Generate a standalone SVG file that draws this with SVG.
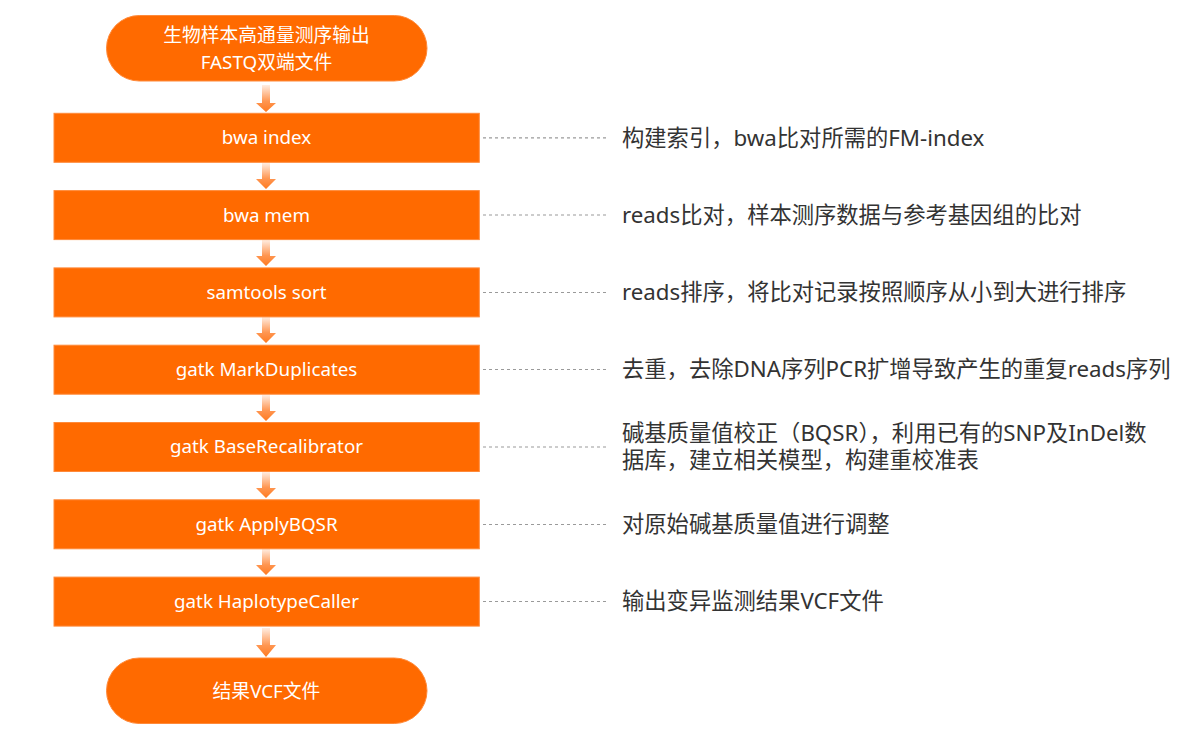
<svg xmlns="http://www.w3.org/2000/svg" width="1192" height="745" viewBox="0 0 1192 745">
<style>
.node{fill:#FF6A00;stroke:#FF8A3A;stroke-width:1}
.nt{fill:#FFFFFF;font-family:"Noto Sans","Noto Sans CJK SC",sans-serif;font-size:18.8px;text-anchor:middle}
.desc{fill:#333333;font-family:"Noto Sans","Noto Sans CJK SC",sans-serif;font-size:22.3px}
.dash{stroke:#9A9A9A;stroke-width:1.2;stroke-dasharray:3 3;fill:none}
.arr{fill:url(#ag)}
</style>
<defs>
<linearGradient id="ag" x1="0" y1="0" x2="0" y2="1">
<stop offset="0" stop-color="#FF8A3D" stop-opacity="0.15"/>
<stop offset="0.6" stop-color="#FF8A3D" stop-opacity="0.9"/>
<stop offset="1" stop-color="#FF7A20" stop-opacity="1"/>
</linearGradient>
</defs>
<g id="connectors">
<path class="arr" d="M262 85 H270 V103 H276 L266 112 L256 103 H262 Z"/>
<path class="arr" d="M262 163 H270 V179 H276 L266 189 L256 179 H262 Z"/>
<path class="arr" d="M262 240 H270 V256 H276 L266 266 L256 256 H262 Z"/>
<path class="arr" d="M262 317 H270 V333 H276 L266 343 L256 333 H262 Z"/>
<path class="arr" d="M262 395 H270 V411 H276 L266 421 L256 411 H262 Z"/>
<path class="arr" d="M262 472 H270 V488 H276 L266 498 L256 488 H262 Z"/>
<path class="arr" d="M262 549 H270 V565 H276 L266 575 L256 565 H262 Z"/>
<path class="arr" d="M262 628 H270 V645 H276 L266 657 L256 645 H262 Z"/>
<line class="dash" x1="483" y1="137.8" x2="608" y2="137.8"/>
<line class="dash" x1="483" y1="215" x2="608" y2="215"/>
<line class="dash" x1="483" y1="292.5" x2="608" y2="292.5"/>
<line class="dash" x1="483" y1="369.5" x2="608" y2="369.5"/>
<line class="dash" x1="483" y1="447" x2="608" y2="447"/>
<line class="dash" x1="483" y1="524.5" x2="608" y2="524.5"/>
<line class="dash" x1="483" y1="601.5" x2="608" y2="601.5"/>
</g>
<g id="start">
<rect class="node" x="106.5" y="15.5" width="320.5" height="65.5" rx="32.7"/>
<text class="nt" x="266.5" y="41.5" font-size="19.2">生物样本高通量测序输出</text>
<text class="nt" x="266.5" y="68.5" font-size="19.2">FASTQ双端文件</text>
</g>
<g id="bwa-index">
<rect class="node" x="54" y="113.3" width="425.3" height="49"/>
<text class="nt" x="266.5" y="144.2">bwa index</text>
</g>
<g id="bwa-mem">
<rect class="node" x="54" y="190.6" width="425.3" height="49"/>
<text class="nt" x="266.5" y="221.5">bwa mem</text>
</g>
<g id="samtools-sort">
<rect class="node" x="54" y="267.9" width="425.3" height="49"/>
<text class="nt" x="266.5" y="298.8">samtools sort</text>
</g>
<g id="mark-duplicates">
<rect class="node" x="54" y="345.2" width="425.3" height="49"/>
<text class="nt" x="266.5" y="376.1">gatk MarkDuplicates</text>
</g>
<g id="base-recalibrator">
<rect class="node" x="54" y="422.5" width="425.3" height="49"/>
<text class="nt" x="266.5" y="453.4">gatk BaseRecalibrator</text>
</g>
<g id="apply-bqsr">
<rect class="node" x="54" y="499.8" width="425.3" height="49"/>
<text class="nt" x="266.5" y="530.7">gatk ApplyBQSR</text>
</g>
<g id="haplotype-caller">
<rect class="node" x="54" y="577.1" width="425.3" height="49"/>
<text class="nt" x="266.5" y="608">gatk HaplotypeCaller</text>
</g>
<g id="end">
<rect class="node" x="106.5" y="658" width="320.5" height="65.5" rx="32.7"/>
<text class="nt" x="266.5" y="697.5">结果VCF文件</text>
</g>
<g id="descriptions">
<text class="desc" x="622" y="145.5">构建索引，bwa比对所需的FM-index</text>
<text class="desc" x="622" y="222.5">reads比对，样本测序数据与参考基因组的比对</text>
<text class="desc" x="622" y="300">reads排序，将比对记录按照顺序从小到大进行排序</text>
<text class="desc" x="622" y="377">去重，去除DNA序列PCR扩增导致产生的重复reads序列</text>
<text class="desc" x="622" y="441">碱基质量值校正（BQSR），利用已有的SNP及InDel数</text>
<text class="desc" x="622" y="467.5">据库，建立相关模型，构建重校准表</text>
<text class="desc" x="622" y="532">对原始碱基质量值进行调整</text>
<text class="desc" x="622" y="609">输出变异监测结果VCF文件</text>
</g>
</svg>
